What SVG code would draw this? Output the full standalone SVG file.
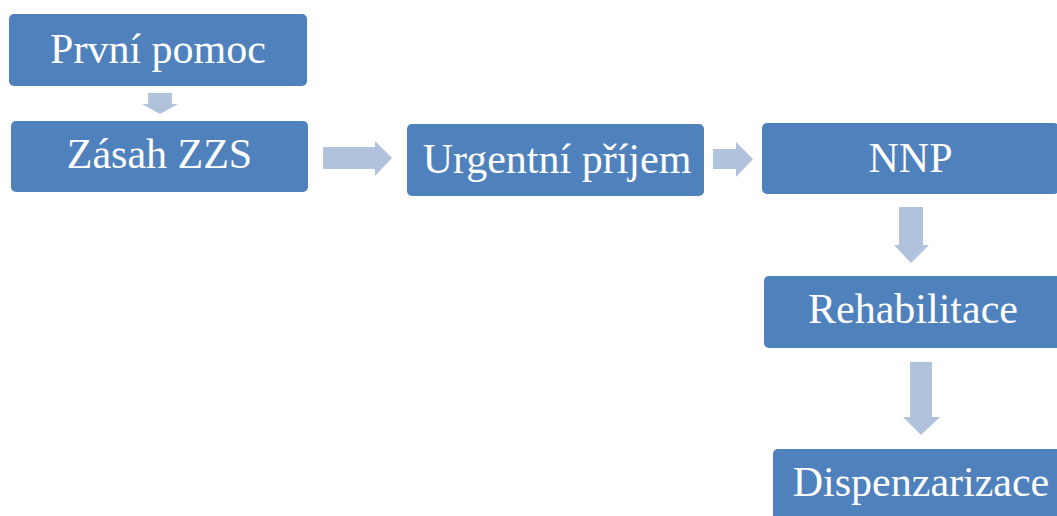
<svg xmlns="http://www.w3.org/2000/svg" width="1057" height="516" viewBox="0 0 1057 516">
  <style>
    .box { fill: #4F81BD; }
    .lbl { fill: #FFFFFF; font-family: "Liberation Serif", "Times New Roman", serif; font-size: 42px; text-anchor: middle; }
    .arr { fill: #B1C2DD; }
  </style>
  <rect width="1057" height="516" fill="#FFFFFF"/>

  <g id="connectors">
    <!-- První pomoc -> Zásah ZZS -->
    <polygon class="arr" points="148,93 172,93 172,104 178,104 160,114 142,104 148,104"/>
    <!-- Zásah ZZS -> Urgentní příjem -->
    <polygon class="arr" points="323,147 375,147 375,141 392,158 375,176 375,169 323,169"/>
    <!-- Urgentní příjem -> NNP -->
    <polygon class="arr" points="713,149 736,149 736,142 753,159 736,177 736,169 713,169"/>
    <!-- NNP -> Rehabilitace -->
    <polygon class="arr" points="899,207 923,207 923,245 929,245 911,263 894,245 899,245"/>
    <!-- Rehabilitace -> Dispenzarizace -->
    <polygon class="arr" points="910,362 932,362 932,417 940,417 921,435 903,417 910,417"/>
  </g>

  <g id="prvni-pomoc">
    <rect class="box" x="9" y="14" width="298" height="72" rx="5"/>
    <text class="lbl" x="158" y="63">První pomoc</text>
  </g>

  <g id="zasah-zzs">
    <rect class="box" x="11" y="121" width="297" height="71" rx="5"/>
    <text class="lbl" x="159.5" y="168">Zásah ZZS</text>
  </g>

  <g id="urgentni-prijem">
    <rect class="box" x="407" y="124" width="297" height="72" rx="5"/>
    <text class="lbl" x="557" y="173">Urgentní příjem</text>
  </g>

  <g id="nnp">
    <rect class="box" x="762" y="123" width="297" height="71" rx="5"/>
    <text class="lbl" x="910.5" y="172">NNP</text>
  </g>

  <g id="rehabilitace">
    <rect class="box" x="764" y="276" width="297" height="72" rx="5"/>
    <text class="lbl" x="913" y="323">Rehabilitace</text>
  </g>

  <g id="dispenzarizace">
    <rect class="box" x="773" y="449" width="297" height="72" rx="5"/>
    <text class="lbl" x="921" y="496">Dispenzarizace</text>
  </g>
</svg>
